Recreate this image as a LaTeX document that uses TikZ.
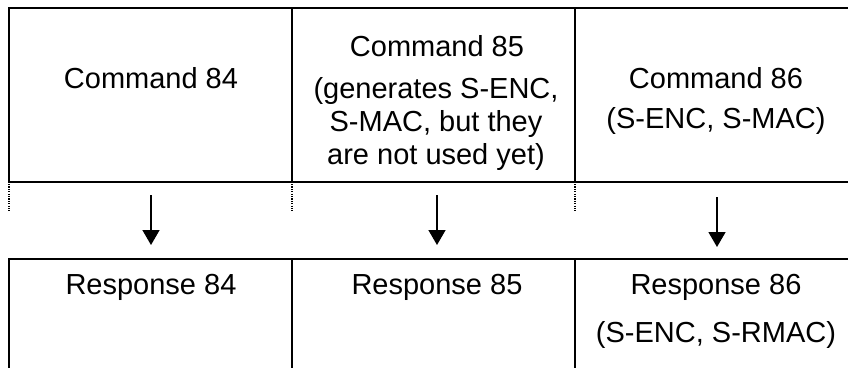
\documentclass[tikz,border=0pt]{standalone}
\usepackage{fontspec}
\setmainfont{Liberation Sans}
\usetikzlibrary{arrows.meta}
\tikzset{
  cell/.style={inner sep=0pt, align=center, font=\fontsize{29}{33}\selectfont},
  frame/.style={line width=2.4pt, line cap=rect},
  dotline/.style={line width=1.5pt, dash pattern=on 1.2pt off 1.2pt},
  flow/.style={line width=1.5pt, -{Triangle[width=17pt,length=15pt]}}
}
\begin{document}
\begin{tikzpicture}[x=1pt,y=-1pt]
\useasboundingbox (0,0) rectangle (848,367);
% frames
\draw[frame] (848,8) -- (9,8) -- (9,182) -- (848,182);
\draw[frame] (292,8) -- (292,182);
\draw[frame] (575,8) -- (575,182);
\draw[frame] (9,367) -- (9,259) -- (848,259);
\draw[frame] (292,259) -- (292,367);
\draw[frame] (575,259) -- (575,367);
\draw[dotline] (9,184) -- (9,211);
\draw[dotline] (292,184) -- (292,211);
\draw[dotline] (575,184) -- (575,211);
% texts
\node[cell] (c84) at (151,78) {Command 84};
\node[cell] (c85) at (437,46) {Command 85};
\node[cell] (c85b) at (436,124) {(generates S-ENC,\\S-MAC, but they\\are not used yet)};
\node[cell] (c86) at (716,78) {Command 86};
\node[cell] (c86b) at (716,121) {(S-ENC, S-MAC)};
\node[cell] (r84) at (151,287) {Response 84};
\node[cell] (r85) at (437,287) {Response 85};
\node[cell] (r86) at (716,287) {Response 86};
\node[cell] (r86b) at (716,335) {(S-ENC, S-RMAC)};
% arrows
\coordinate (a1s) at (151,195); \coordinate (a1e) at (151,245);
\coordinate (a2s) at (437,195); \coordinate (a2e) at (437,245);
\coordinate (a3s) at (717,197); \coordinate (a3e) at (717,247);
\draw[flow] (a1s) -- (a1e);
\draw[flow] (a2s) -- (a2e);
\draw[flow] (a3s) -- (a3e);
\end{tikzpicture}
\end{document}
